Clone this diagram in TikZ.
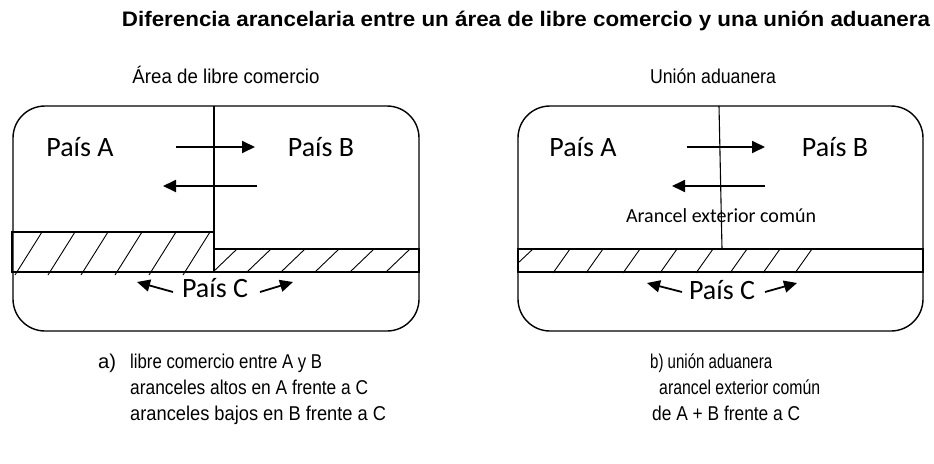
\documentclass[tikz,border=0pt]{standalone}
\usepackage{fontspec}
\usepackage{graphicx}
\setmainfont{Liberation Sans}
\newfontfamily\calfont{Carlito}
\usetikzlibrary{arrows.meta}
\newcommand\fitw[2]{\resizebox{#1}{\height}{#2}}
\tikzset{
  box/.style={draw, line width=1.4pt, rounded corners=32pt},
  edge/.style={line width=1.1pt},
  flow/.style={line width=1.8pt, -{Triangle[length=13pt,width=12pt]}},
  hatch/.style={line width=0.9pt},
  lbl/.style={inner sep=0, font=\calfont\fontsize{28}{30}\selectfont},
  small/.style={inner sep=0, font=\calfont\fontsize{20}{22}\selectfont},
  ttl/.style={inner sep=0, anchor=base, font=\bfseries\fontsize{21}{24}\selectfont},
  sub/.style={inner sep=0, anchor=base, font=\fontsize{20}{24}\selectfont},
  txt/.style={inner sep=0, anchor=base west, font=\fontsize{20}{24}\selectfont},
}
\begin{document}
\begin{tikzpicture}[x=1pt,y=-1pt]
\useasboundingbox (0,0) rectangle (934,463);
% titles
\node[ttl] (title) at (526,27) {\fitw{808pt}{Diferencia arancelaria entre un área de libre comercio y una unión aduanera}};
\node[sub] (sub1) at (226,83) {\fitw{187pt}{Área de libre comercio}};
\node[sub] (sub2) at (713,83) {\fitw{126pt}{Unión aduanera}};

% ---------- left box ----------
\draw[box] (13,106) rectangle (419,331);
\draw[edge] (12,232) rectangle (214,272);
\draw[edge] (214,249) rectangle (419,272);
\draw[edge] (214,106) -- (214,232);
\foreach \b in {15,48,81,115,149,183} \draw[hatch] (\b,275) -- ++(27,-43);
\foreach \b in {213,247,281,315,350,386} \draw[hatch] (\b,272) -- ++(24,-23);
\node[lbl] (la) at (80,147) {País A};
\node[lbl] (lb) at (321,147) {País B};
\node[lbl] (lc) at (215,288) {País C};
\coordinate (la1) at (176,147); \coordinate (la2) at (255,147);
\coordinate (lb1) at (257,186); \coordinate (lb2) at (163,186);
\coordinate (lc1) at (173,292); \coordinate (lc2) at (137,282);
\coordinate (lc3) at (260,292); \coordinate (lc4) at (293,282);
\draw[flow] (la1) -- (la2);
\draw[flow] (lb1) -- (lb2);
\draw[flow] (lc1) -- (lc2);
\draw[flow] (lc3) -- (lc4);

% ---------- right box ----------
\draw[box] (518,106) rectangle (923,331);
\draw[edge] (518,249) rectangle (923,272);
\draw[edge] (719,106) -- (722,249);
\draw[hatch] (518,263) -- (533,249);
\foreach \t in {570,603,640,677,713,747,780,812} \draw[hatch] (\t-17,273) -- (\t,249);
\node[lbl] (ra) at (583,147) {País A};
\node[lbl] (rb) at (835,147) {País B};
\node[small] (rt) at (721,216) {Arancel exterior común};
\node[lbl] (rc) at (722,290) {País C};
\coordinate (ra1) at (687,147); \coordinate (ra2) at (765,147);
\coordinate (rb1) at (765,186); \coordinate (rb2) at (672,186);
\coordinate (rc1) at (682,292); \coordinate (rc2) at (647,283);
\coordinate (rc3) at (765,292); \coordinate (rc4) at (797,283);
\draw[flow] (ra1) -- (ra2);
\draw[flow] (rb1) -- (rb2);
\draw[flow] (rc1) -- (rc2);
\draw[flow] (rc3) -- (rc4);

% ---------- captions ----------
\node[txt] (ca) at (98,368) {\fitw{18pt}{a)}};
\node[txt] (ca1) at (130,368) {\fitw{192pt}{libre comercio entre A y B}};
\node[txt] (ca2) at (130,394) {\fitw{238pt}{aranceles altos en A frente a C}};
\node[txt] (ca3) at (130,420) {\fitw{256pt}{aranceles bajos en B frente a C}};
\node[txt] (cb1) at (650,368) {\fitw{122pt}{b) unión aduanera}};
\node[txt] (cb2) at (659,394) {\fitw{161pt}{arancel exterior común}};
\node[txt] (cb3) at (652,420) {\fitw{148pt}{de A + B frente a C}};
\end{tikzpicture}
\end{document}
